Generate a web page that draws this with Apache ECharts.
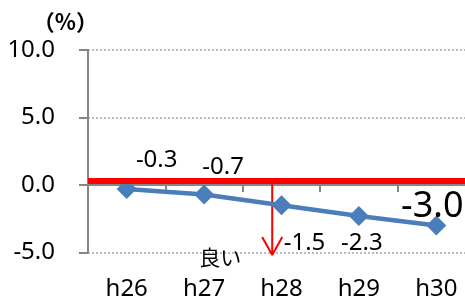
<!DOCTYPE html>
<html>
<head>
<meta charset="utf-8">
<script src="https://cdn.jsdelivr.net/npm/echarts@6/dist/echarts.min.js"></script>
<style>
  html, body { margin: 0; padding: 0; background: #fff; }
  #chart { width: 465px; height: 297px; }
</style>
</head>
<body>
<div id="chart"></div>
<script>
var years = ['h26', 'h27', 'h28', 'h29', 'h30'];
var values = [-0.3, -0.7, -1.5, -2.3, -3.0];
var targetLine = 0.33;
// arrow sits on a hidden 0..5 value axis laid over the category bands
var arrowPath = [[2.38, 0.3], [2.38, -5.19], [2.25, -3.85], [2.38, -5.19], [2.51, -3.85]];
var arrowText = '良い';
var arrowTextAt = [2.38, -4.95];

var font = '"Noto Sans", "Noto Sans CJK JP", sans-serif';
var cjkFont = '"Noto Sans CJK JP", sans-serif';
// label placement like the excel original (px from the marker)
var labelOffsets = [[30, -29], [19, -27], [23, 38], [3, 27], [-4, -19]];

var myChart = echarts.init(document.getElementById('chart'));

var mainData = values.map(function (v, i) {
  return {
    value: v,
    label: {
      offset: labelOffsets[i],
      fontSize: i == values.length - 1 ? 36 : 24
    }
  };
});

var option = {
  animation: false,
  grid: { left: 88, right: -10, top: 50, bottom: 44.5, containLabel: false, outerBoundsMode: 'none' },
  xAxis: [
    {
      // axis line at zero with the band ticks
      type: 'category',
      data: years,
      boundaryGap: true,
      axisLine: { onZero: true, lineStyle: { color: '#868686', width: 2 } },
      axisTick: { show: true, length: 7, lineStyle: { color: '#868686', width: 2 } },
      axisLabel: { show: false },
      splitLine: { show: false }
    },
    { type: 'value', min: 0, max: 5, show: false },
    {
      // year labels along the bottom
      type: 'category',
      data: years,
      position: 'bottom',
      boundaryGap: true,
      axisLine: { show: false, onZero: false },
      axisTick: { show: false },
      axisLabel: { margin: 25, fontSize: 24, color: '#000', fontFamily: font, interval: 0 },
      splitLine: { show: false }
    }
  ],
  yAxis: {
    type: 'value',
    min: -5,
    max: 10,
    interval: 5,
    name: '（%）',
    nameLocation: 'end',
    nameGap: 17,
    nameTextStyle: { fontSize: 22, fontWeight: 'bold', color: '#000', fontFamily: cjkFont, align: 'right', padding: [0, -10, 0, 0] },
    axisLine: { show: true, lineStyle: { color: '#868686', width: 2 } },
    axisTick: { show: true, length: 9, lineStyle: { color: '#868686', width: 2 } },
    axisLabel: {
      margin: 33,
      fontSize: 24,
      color: '#000',
      fontFamily: font,
      formatter: function (v) { return v.toFixed(1); }
    },
    splitLine: { show: true, lineStyle: { color: '#a6a6a6', width: 1.5, type: [2, 2] } }
  },
  series: [
    {
      type: 'line',
      data: [],
      z: 1,
      markLine: {
        silent: true,
        symbol: ['none', 'none'],
        label: { show: false },
        lineStyle: { color: '#ff0000', width: 6, type: 'solid' },
        data: [{ yAxis: targetLine }]
      }
    },
    {
      type: 'line',
      xAxisIndex: 1,
      data: arrowPath,
      symbol: 'none',
      clip: false,
      z: 2,
      lineStyle: { color: '#ff0000', width: 2 },
      markPoint: {
        symbol: 'circle',
        symbolSize: 2,
        itemStyle: { color: 'rgba(0,0,0,0)' },
        label: {
          show: true,
          formatter: arrowText,
          position: 'left',
          distance: 30,
          offset: [0, 5],
          fontSize: 21,
          color: '#000',
          fontFamily: cjkFont
        },
        data: [{ coord: arrowTextAt }]
      }
    },
    {
      type: 'line',
      data: mainData,
      z: 3,
      symbol: 'diamond',
      symbolSize: 20,
      lineStyle: { color: '#4a7ebb', width: 4.5 },
      itemStyle: { color: '#4a7ebb' },
      label: {
        show: true,
        position: 'inside',
        color: '#000',
        fontFamily: font,
        formatter: function (p) { return p.value.toFixed(1); }
      }
    }
  ]
};

myChart.setOption(option);
</script>
</body>
</html>
